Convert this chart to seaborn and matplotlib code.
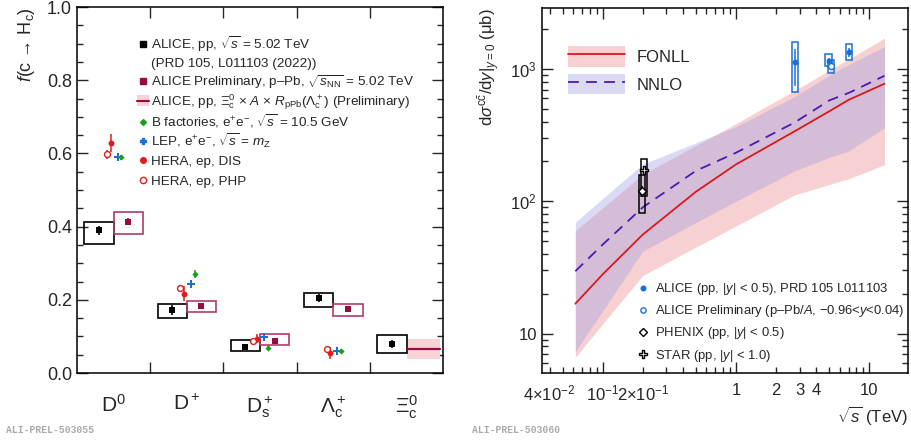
import numpy as np
import pandas as pd
import matplotlib
matplotlib.use('Agg')
import matplotlib.pyplot as plt
import seaborn as sns
from matplotlib.patches import Rectangle, Patch
from matplotlib.lines import Line2D
from matplotlib.ticker import MultipleLocator, FixedLocator, FixedFormatter, NullFormatter

# ---------------- data: left panel (fragmentation fractions) ----------------
species = ['D$^0$', 'D$^+$', 'D$_{\\rm s}^+$', '$\\Lambda_{\\rm c}^+$', '$\\Xi_{\\rm c}^0$']

alice_pp = [0.390, 0.172, 0.072, 0.204, 0.079]
alice_pp_stat = [0.012, 0.013, 0.007, 0.011, 0.011]
alice_pp_syst_up = [0.023, 0.017, 0.018, 0.015, 0.025]
alice_pp_syst_dn = [0.038, 0.021, 0.011, 0.023, 0.025]

alice_ppb = [0.414, 0.183, 0.089, 0.176]
alice_ppb_stat = [0.010, 0.008, 0.005, 0.008]
alice_ppb_syst_up = [0.025, 0.015, 0.017, 0.013]
alice_ppb_syst_dn = [0.034, 0.017, 0.011, 0.019]

xi_scaled = 0.066
xi_scaled_up = 0.026
xi_scaled_dn = 0.027

hera_dis = [0.628, 0.217, 0.094, 0.054]
hera_dis_err = [0.025, 0.020, 0.012, 0.016]
hera_php = [0.598, 0.233, 0.088, 0.066]
hera_php_err = [0.012, 0.008, 0.006, 0.006]
lep = [0.589, 0.243, 0.099, 0.061]
lep_err = [0.008, 0.008, 0.006, 0.005]
bfact = [0.589, 0.270, 0.069, 0.061]
bfact_err = [0.008, 0.011, 0.006, 0.005]

legend_left_labels = [
    'ALICE, pp, $\\sqrt{s}$ = 5.02 TeV',
    '(PRD 105, L011103 (2022))',
    'ALICE Preliminary, p–Pb, $\\sqrt{s_{\\rm NN}}$ = 5.02 TeV',
    'ALICE, pp, $\\Xi^0_{\\rm c}$ × $A$ × $R_{\\rm pPb}$($\\Lambda^+_{\\rm c}$) (Preliminary)',
    'B factories, e$^{+}$e$^{-}$, $\\sqrt{s}$ = 10.5 GeV',
    'LEP, e$^{+}$e$^{-}$, $\\sqrt{s}$ = $m_{\\rm Z}$',
    'HERA, ep, DIS',
    'HERA, ep, PHP',
]

# ---------------- data: right panel (cross sections) ----------------
sqrt_s_th = [0.0624, 0.1, 0.2, 0.5, 1.0, 2.76, 5.02, 7.0, 13.0]
fonll_c = [16.8, 28, 56, 118, 190, 339, 480, 585, 775]
fonll_hi = [60, 89, 160, 264, 387, 690, 980, 1190, 1714]
fonll_lo = [6.6, 11.8, 27.5, 45, 65, 112, 134, 148, 189]
nnlo_c = [29.6, 47, 90, 170, 233, 395, 580, 660, 890]
nnlo_hi = [69.5, 105, 191, 277, 367, 620, 900, 1080, 1480]
nnlo_lo = [7.3, 14.8, 42, 69, 100, 170, 215, 240, 359]

alice_pp_s = [2.76, 4.95, 7.0]
alice_pp_xs = [1129, 1155, 1343]
alice_pp_xs_stat_dn = [389, 60, 100]
alice_pp_xs_stat_up = [293, 60, 100]
alice_pp_xs_box_lo = [671, 1059, 1175]
alice_pp_xs_box_hi = [1597, 1304, 1541]

alice_ppb_s = [5.15]
alice_ppb_xs = [1046]
alice_ppb_xs_stat = [25]
alice_ppb_xs_box_lo = [933]
alice_ppb_xs_box_hi = [1175]

phenix_s = [0.196]
phenix_xs = [119]
phenix_xs_stat = [12]
phenix_box_lo = [82]
phenix_box_hi = [159]

star_s = [0.203]
star_xs = [171]
star_xs_stat = [15]
star_box_lo = [110]
star_box_hi = [209]

xtick_vals = [0.04, 0.1, 0.2, 1, 2, 3, 4, 10]
xtick_labels = ['4×10$^{-2}$', '10$^{-1}$', '2×10$^{-1}$', '1', '2', '3', '4', '10']

legend_right_labels = [
    'ALICE (pp, |$y$| < 0.5), PRD 105 L011103',
    'ALICE Preliminary (p–Pb/$A$, −0.96<$y$<0.04)',
    'PHENIX (pp, |$y$| < 0.5)',
    'STAR (pp, |$y$| < 1.0)',
]

# ---------------- style ----------------
sns.set_theme(style='ticks')
plt.rcParams['font.family'] = ['Liberation Sans', 'DejaVu Sans']
plt.rcParams['mathtext.fontset'] = 'custom'
plt.rcParams['mathtext.rm'] = 'Liberation Sans'
plt.rcParams['mathtext.it'] = 'Liberation Sans:italic'
plt.rcParams['mathtext.bf'] = 'Liberation Sans:bold'
plt.rcParams['mathtext.sf'] = 'Liberation Sans'
plt.rcParams['axes.linewidth'] = 1.1
plt.rcParams['axes.edgecolor'] = 'black'

BLACK = 'black'
MAROON = '#990a44'
MAROON_BOX = '#b3396b'
PINK = '#f8d2d4'
RED = '#e11b1b'
BLUE = '#1a6fd6'
GREEN = '#16a016'
FONLL_RED = '#d9191c'
NNLO_COL = '#4a1bb0'
FONLL_BAND = '#f6c6c6'
NNLO_BAND = '#9a9ae6'

fig = plt.figure(figsize=(9.11, 4.41), dpi=100)
ax = fig.add_axes([0.0845, 0.154, 0.402, 0.830])
ax2 = fig.add_axes([0.5946, 0.1535, 0.4021, 0.8285])

# ================= left panel =================
idx = np.arange(len(species))
idx4 = np.arange(len(alice_ppb))

for i, (v, u, d) in enumerate(zip(alice_pp, alice_pp_syst_up, alice_pp_syst_dn)):
    ax.add_patch(Rectangle((i + 0.1, v - d), 0.4, u + d, fill=False, ec=BLACK, lw=1.2, zorder=3))
for i, (v, u, d) in enumerate(zip(alice_ppb, alice_ppb_syst_up, alice_ppb_syst_dn)):
    ax.add_patch(Rectangle((i + 0.5, v - d), 0.4, u + d, fill=False, ec=MAROON_BOX, lw=1.2, zorder=3))

ax.fill_between([4.5, 4.95], [xi_scaled - xi_scaled_dn] * 2, [xi_scaled + xi_scaled_up] * 2,
                color=PINK, lw=0, zorder=2)
ax.plot([4.5, 4.95], [xi_scaled] * 2, color=MAROON, lw=1.6, zorder=3)

ax.errorbar(idx + 0.3, alice_pp, yerr=alice_pp_stat, fmt='none', ecolor=BLACK, elinewidth=1.2, zorder=4)
ax.errorbar(idx4 + 0.7, alice_ppb, yerr=alice_ppb_stat, fmt='none', ecolor=MAROON, elinewidth=1.2, zorder=4)
ax.errorbar(idx4 + 0.46, hera_dis, yerr=hera_dis_err, fmt='none', ecolor=RED, elinewidth=1.1, zorder=4)
ax.errorbar(idx4 + 0.41, hera_php, yerr=hera_php_err, fmt='none', ecolor=RED, elinewidth=1.1, zorder=4)
ax.errorbar(idx4 + 0.555, lep, yerr=lep_err, fmt='none', ecolor=BLUE, elinewidth=1.1, zorder=4)
ax.errorbar(idx4 + 0.605, bfact, yerr=bfact_err, fmt='none', ecolor=GREEN, elinewidth=1.1, zorder=4)

sns.scatterplot(x=idx + 0.3, y=alice_pp, marker='s', color=BLACK, s=20, linewidth=0, ax=ax, zorder=5)
sns.scatterplot(x=idx4 + 0.7, y=alice_ppb, marker='s', color=MAROON, s=20, linewidth=0, ax=ax, zorder=5)
sns.scatterplot(x=idx4 + 0.46, y=hera_dis, marker='o', color=RED, s=18, linewidth=0, ax=ax, zorder=5)
sns.scatterplot(x=idx4 + 0.41, y=hera_php, marker='o', facecolor='white', edgecolor=RED, s=18,
                linewidth=1.0, ax=ax, zorder=5)
sns.scatterplot(x=idx4 + 0.555, y=lep, marker='P', color=BLUE, s=28, linewidth=0, ax=ax, zorder=5)
sns.scatterplot(x=idx4 + 0.605, y=bfact, marker='D', color=GREEN, s=10, linewidth=0, ax=ax, zorder=5)

ax.set_xlim(0, 5)
ax.set_ylim(0, 1.0)
ax.set_xticks(idx + 0.5)
ax.set_xticklabels(species, fontsize=15)
ax.xaxis.set_minor_locator(FixedLocator([1, 2, 3, 4]))
ax.tick_params(axis='x', which='major', length=0, pad=15)
ax.tick_params(axis='x', which='minor', length=8, width=1.0, direction='in', top=True, bottom=True)
ax.yaxis.set_major_locator(MultipleLocator(0.2))
ax.yaxis.set_minor_locator(MultipleLocator(0.05))
ax.yaxis.set_major_formatter(matplotlib.ticker.FormatStrFormatter('%.1f'))
ax.tick_params(axis='y', which='major', length=8, width=1.0, direction='in', left=True, right=True, labelsize=13)
ax.tick_params(axis='y', which='minor', length=4.5, width=1.0, direction='in', left=True, right=True)
ax.set_xlabel('')
ax.set_ylabel('$f$(c → H$_{\\rm c}$)', fontsize=13, loc='top')
ax.yaxis.set_label_coords(-0.108, 1.0)

# left legend (manual keys at fixed rows)
AX_H = 366.0
row_px = [44, 62, 80.5, 100.5, 121.5, 140.5, 160, 180]
key_x = 0.180
txt_x = 0.202
key_styles = [
    dict(marker='s', color=BLACK, ms=4.2),
    None,
    dict(marker='s', color=MAROON, ms=4.2),
    'xi',
    dict(marker='D', color=GREEN, ms=3.0),
    dict(marker='P', color=BLUE, ms=5.0),
    dict(marker='o', color=RED, ms=4.0),
    dict(marker='o', mfc='white', mec=RED, ms=4.5, mew=1.0),
]
for py, lab, ks in zip(row_px, legend_left_labels, key_styles):
    yc = (373.0 - py) / AX_H
    ax.text(txt_x, yc - 5.0 / AX_H, lab, transform=ax.transAxes, fontsize=9.7, va='baseline', ha='left')
    if ks == 'xi':
        ax.add_patch(Rectangle((0.165, yc - 5.5 / AX_H), 0.032, 11 / AX_H, transform=ax.transAxes,
                               fc=PINK, ec='none', clip_on=False))
        ax.add_line(Line2D([0.165, 0.197], [yc, yc], transform=ax.transAxes, color=MAROON, lw=1.5,
                           clip_on=False))
    elif ks is not None:
        ax.add_line(Line2D([key_x], [yc], transform=ax.transAxes, ls='none', clip_on=False, **ks))

# ================= right panel =================
ax2.set_xscale('log')
ax2.set_yscale('log')
ax2.fill_between(sqrt_s_th, fonll_lo, fonll_hi, color=FONLL_BAND, alpha=0.8, lw=0, zorder=1)
ax2.fill_between(sqrt_s_th, nnlo_lo, nnlo_hi, color=NNLO_BAND, alpha=0.36, lw=0, zorder=2)
sns.lineplot(x=sqrt_s_th, y=fonll_c, color=FONLL_RED, lw=1.3, ax=ax2, zorder=3)
sns.lineplot(x=sqrt_s_th, y=nnlo_c, color=NNLO_COL, lw=1.3, ax=ax2, zorder=3)
ax2.lines[-1].set_linestyle((0, (6, 4)))


def boxes(a, xs, lo, hi, col):
    f = 1.055
    for x, l, h in zip(xs, lo, hi):
        a.add_patch(Rectangle((x / f, l), x * f - x / f, h - l, fill=False, ec=col, lw=1.1, zorder=4))


boxes(ax2, alice_pp_s, alice_pp_xs_box_lo, alice_pp_xs_box_hi, BLUE)
boxes(ax2, alice_ppb_s, alice_ppb_xs_box_lo, alice_ppb_xs_box_hi, BLUE)
boxes(ax2, phenix_s, phenix_box_lo, phenix_box_hi, BLACK)
boxes(ax2, star_s, star_box_lo, star_box_hi, BLACK)

ax2.errorbar(alice_pp_s, alice_pp_xs, yerr=[alice_pp_xs_stat_dn, alice_pp_xs_stat_up], fmt='none',
             ecolor=BLUE, elinewidth=1.1, zorder=5)
ax2.errorbar(alice_ppb_s, alice_ppb_xs, yerr=alice_ppb_xs_stat, fmt='none', ecolor=BLUE, elinewidth=1.1, zorder=5)
ax2.errorbar(phenix_s, phenix_xs, yerr=phenix_xs_stat, fmt='none', ecolor=BLACK, elinewidth=1.1, zorder=5)
ax2.errorbar(star_s, star_xs, yerr=star_xs_stat, fmt='none', ecolor=BLACK, elinewidth=1.1, zorder=5)

sns.scatterplot(x=alice_pp_s, y=alice_pp_xs, marker='o', color=BLUE, s=18, linewidth=0, ax=ax2, zorder=6)
sns.scatterplot(x=alice_ppb_s, y=alice_ppb_xs, marker='o', facecolor='white', edgecolor=BLUE, s=18,
                linewidth=1.0, ax=ax2, zorder=6)
sns.scatterplot(x=phenix_s, y=phenix_xs, marker='D', facecolor='white', edgecolor=BLACK, s=16,
                linewidth=1.0, ax=ax2, zorder=6)
sns.scatterplot(x=star_s, y=star_xs, marker='P', facecolor='white', edgecolor=BLACK, s=36,
                linewidth=1.0, ax=ax2, zorder=6)

ax2.set_xlim(0.0349, 19.5)
ax2.set_ylim(5.0, 2900)

ax2.xaxis.set_major_locator(FixedLocator([0.1, 1, 10]))
minor_x = [m * 10.0 ** e for e in (-2, -1, 0, 1) for m in range(2, 10)]
minor_x = [v for v in minor_x if 0.0349 < v < 19.5]
ax2.xaxis.set_minor_locator(FixedLocator(minor_x))
ax2.xaxis.set_major_formatter(FixedFormatter(['10$^{-1}$', '1', '10']))
lab_map = dict(zip(xtick_vals, xtick_labels))
ax2.xaxis.set_minor_formatter(matplotlib.ticker.FuncFormatter(
    lambda v, p: next((lab for k, lab in lab_map.items() if abs(v - k) / k < 1e-6 and k not in (0.1, 1, 10)), '')))
ax2.tick_params(axis='x', which='major', length=8, width=1.0, direction='in', top=True, bottom=True,
                labelsize=12, pad=7)
ax2.tick_params(axis='x', which='minor', length=4.5, width=1.0, direction='in', top=True, bottom=True,
                labelsize=12, pad=7)

ax2.yaxis.set_major_locator(FixedLocator([10, 100, 1000]))
ax2.yaxis.set_major_formatter(FixedFormatter(['10', '10$^2$', '10$^3$']))
minor_y = [m * 10.0 ** e for e in (0, 1, 2, 3) for m in range(2, 10)]
minor_y = [v for v in minor_y if 5.0 < v < 2900]
ax2.yaxis.set_minor_locator(FixedLocator(minor_y))
ax2.yaxis.set_minor_formatter(NullFormatter())
ax2.tick_params(axis='y', which='major', length=8, width=1.0, direction='in', left=True, right=True,
                labelsize=12)
ax2.tick_params(axis='y', which='minor', length=4.5, width=1.0, direction='in', left=True, right=True)

ax2.set_xlabel('$\\sqrt{s}$ (TeV)', fontsize=12, loc='right')
ax2.xaxis.set_label_coords(1.0, -0.085)
ax2.set_ylabel('d$\\sigma^{\\rm c\\bar{c}}$/d$y$$|_{y=0}$ (μb)', fontsize=12, loc='top')
ax2.yaxis.set_label_coords(-0.108, 1.0)

th_handles = [
    (Patch(fc=FONLL_BAND, ec='none', alpha=0.8), Line2D([], [], color=FONLL_RED, lw=1.3)),
    (Patch(fc=NNLO_BAND, ec='none', alpha=0.36), Line2D([], [], color=NNLO_COL, lw=1.3, ls=(0, (6, 4)))),
]
leg_th = ax2.legend(th_handles, ['FONLL', 'NNLO'], loc='upper left', bbox_to_anchor=(0.072, 0.895),
                    fontsize=12, frameon=False, handlelength=3.4, handleheight=1.5,
                    handletextpad=0.7, labelspacing=0.45, borderpad=0, borderaxespad=0)

# right lower legend (manual keys)
AX2_H = 365.3
row2_px = [287.7, 309.7, 332, 354]
key2_styles = [
    dict(marker='o', color=BLUE, ms=3.3),
    dict(marker='o', mfc='white', mec=BLUE, ms=3.8, mew=1.0),
    dict(marker='D', mfc='white', mec=BLACK, ms=3.8, mew=1.0),
    dict(marker='P', mfc='white', mec=BLACK, ms=5.8, mew=1.0),
]
for py, lab, ks in zip(row2_px, legend_right_labels, key2_styles):
    yc = (373.3 - py) / AX2_H
    ax2.text(0.309, yc - 4.5 / AX2_H, lab, transform=ax2.transAxes, fontsize=9.4, va='baseline', ha='left')
    ax2.add_line(Line2D([0.277], [yc], transform=ax2.transAxes, ls='none', clip_on=False, **ks))

fig.text(0.007, 0.025, 'ALI-PREL-503055', fontsize=7, family=['Liberation Mono', 'DejaVu Sans Mono'],
         color='#aaaaaa', weight='bold', va='center')
fig.text(0.518, 0.025, 'ALI-PREL-503060', fontsize=7, family=['Liberation Mono', 'DejaVu Sans Mono'],
         color='#aaaaaa', weight='bold', va='center')

fig.savefig('out.png', dpi=100)
